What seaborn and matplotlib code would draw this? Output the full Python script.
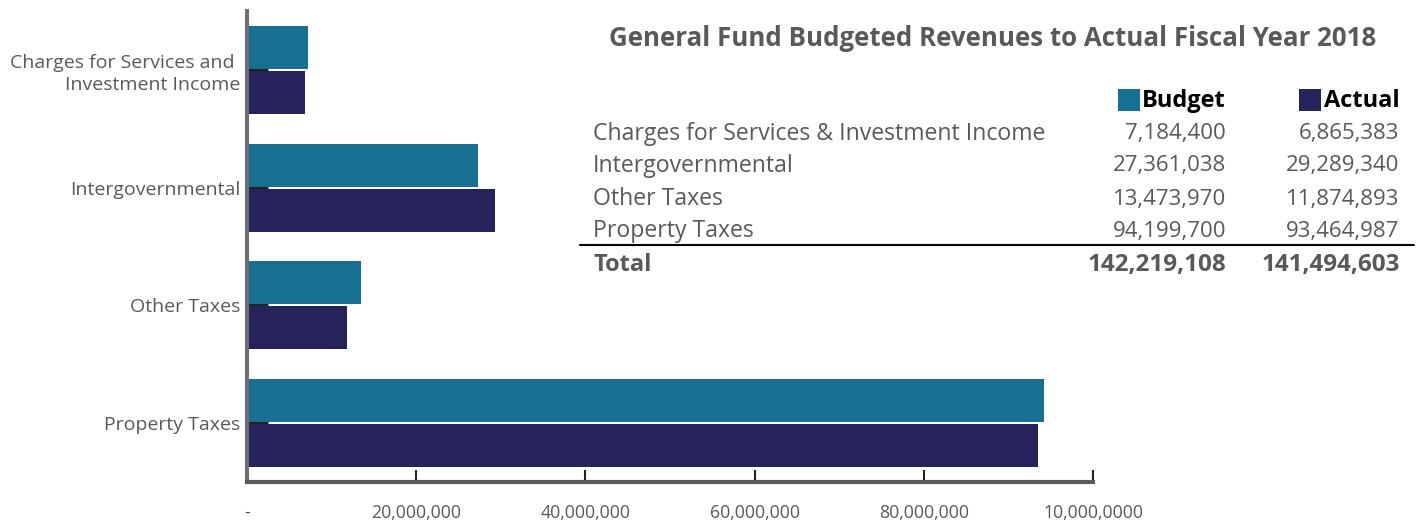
import matplotlib
matplotlib.use("Agg")
import matplotlib.pyplot as plt
import matplotlib.transforms as mtransforms
from matplotlib.patches import Rectangle
import seaborn as sns
import pandas as pd

# ---- data ----
axis_categories = ["Charges for Services and \nInvestment Income", "Intergovernmental",
                   "Other Taxes", "Property Taxes"]
table_categories = ["Charges for Services & Investment Income", "Intergovernmental",
                    "Other Taxes", "Property Taxes"]
series = ["Budget", "Actual"]
budget = [7184400, 27361038, 13473970, 94199700]
actual = [6865383, 29289340, 11874893, 93464987]
xtick_values = [0, 20000000, 40000000, 60000000, 80000000, 100000000]
xtick_labels = ["-", "20,000,000", "40,000,000", "60,000,000", "80,000,000", "10,000,0000"]
title = "General Fund Budgeted Revenues to Actual Fiscal Year 2018"

colors = ["#177092", "#26225c"]
GRAY = "#595959"

sns.set_theme(style="white")
plt.rcParams["font.family"] = ["Open Sans", "DejaVu Sans"]

W, H = 1421, 521
fig = plt.figure(figsize=(W / 100, H / 100), dpi=100)
ax = fig.add_axes([247 / W, 1 - 481.8 / H, (1093 - 247) / W, (481.8 - 11.2) / H])

df = pd.DataFrame({
    "category": axis_categories * 2,
    "series": [series[0]] * 4 + [series[1]] * 4,
    "value": budget + actual,
})
sns.barplot(data=df, x="value", y="category", hue="series", orient="h",
            order=axis_categories, hue_order=series, palette=colors,
            saturation=1, errorbar=None, width=0.766, gap=0.045,
            linewidth=0, edgecolor="none", legend=False, ax=ax)

ax.set_xlim(0, 100000000)
ax.set_ylim(3.5, -0.5)
ax.set_xlabel("")
ax.set_ylabel("")
ax.set_xticks(xtick_values)
ax.set_xticklabels(xtick_labels, color=GRAY, fontsize=12.7)
ax.tick_params(axis="x", direction="in", length=8.6, width=1.5, color="#222222",
               pad=16, bottom=True)
ax.xaxis.get_major_ticks()[0].tick1line.set_visible(False)
ax.tick_params(axis="y", direction="in", length=15, width=2.2, color="#222222",
               pad=5, left=True, labelsize=14, labelcolor=GRAY)
for lab in ax.get_yticklabels():
    lab.set_horizontalalignment("right")
    lab.set_multialignment("right")
    lab.set_linespacing(1.3)

for s in ["top", "right"]:
    ax.spines[s].set_visible(False)
ax.spines["left"].set_color("#6d6e71")
ax.spines["left"].set_linewidth(2.9)
ax.spines["bottom"].set_color("#5a5a5a")
ax.spines["bottom"].set_linewidth(3.0)

# ---- pixel-coordinate transform for the table panel ----
px = mtransforms.Affine2D().scale(1 / W, -1 / H).translate(0, 1) + fig.transFigure

fig.text(993, 38, title, transform=px, ha="center", va="center",
         fontsize=18.6, fontweight="bold", color=GRAY)

# legend header
for name, col, sq_x, txt_right in [(series[0], colors[0], 1118, 1226),
                                    (series[1], colors[1], 1299, 1399.5)]:
    fig.patches.append(Rectangle((sq_x, 89), 22, 22, transform=px,
                                 facecolor=col, edgecolor="none"))
    fig.text(txt_right, 101, name, transform=px, ha="right", va="center",
             fontsize=17, fontweight="bold", color="black")

row_y = [134, 166, 199, 231]
for name, b, a, y in zip(table_categories, budget, actual, row_y):
    fig.text(593, y, name, transform=px, ha="left", va="center",
             fontsize=16.6, color=GRAY)
    fig.text(1226, y, f"{b:,}", transform=px, ha="right", va="center",
             fontsize=16, color=GRAY)
    fig.text(1399.5, y, f"{a:,}", transform=px, ha="right", va="center",
             fontsize=16, color=GRAY)

fig.add_artist(plt.Line2D([580, 1414], [245, 245], transform=px,
                          color="black", linewidth=1.5))
fig.text(593, 265, "Total", transform=px, ha="left", va="center",
         fontsize=17, fontweight="bold", color=GRAY)
fig.text(1226, 265, f"{sum(budget):,}", transform=px, ha="right", va="center",
         fontsize=17.5, fontweight="bold", color=GRAY)
fig.text(1399.5, 265, f"{sum(actual):,}", transform=px, ha="right", va="center",
         fontsize=17.5, fontweight="bold", color=GRAY)

fig.savefig("out.png", dpi=100)
